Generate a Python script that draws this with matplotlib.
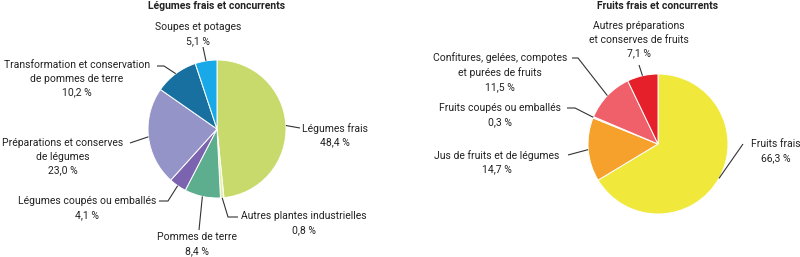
import numpy as np
import matplotlib.pyplot as plt

plt.rcParams["font.family"] = ["Roboto", "DejaVu Sans"]

W, H = 800, 257

# Left pie: vegetables
veg_labels = ["Légumes frais", "Autres plantes industrielles", "Pommes de terre",
              "Légumes coupés ou emballés", "Préparations et conserves\nde légumes",
              "Transformation et conservation\nde pommes de terre", "Soupes et potages"]
veg_values = [48.4, 0.8, 8.4, 4.1, 23.0, 10.2, 5.1]
veg_colors = ["#c8da6b", "#e6efa8", "#5cae8e", "#7b63b0", "#9494c8", "#17709f", "#1aa9e8"]

# Right pie: fruits
fruit_labels = ["Fruits frais", "Jus de fruits et de légumes", "Fruits coupés ou emballés",
                "Confitures, gelées, compotes\net purées de fruits",
                "Autres préparations\net conserves de fruits"]
fruit_values = [66.3, 14.7, 0.3, 11.5, 7.1]
fruit_colors = ["#f0e93c", "#f5a12b", "#f9d2c4", "#f0606b", "#e5202a"]


def fmt(v):
    return f"{v:.1f}".replace(".", ",") + " %"


def Y(py):
    return H - py


def draw_pie(ax, values, colors, labels, cx, cy, r, placements):
    ax.pie(values, colors=colors, startangle=90, counterclock=False,
           center=(cx, Y(cy)), radius=r,
           wedgeprops=dict(edgecolor="white", linewidth=0.7))
    total = sum(values)
    cum = 0.0
    for v, lab, (tx, ty, elbow, lead_end) in zip(values, labels, placements):
        mid = cum + v / 2
        cum += v
        ang = np.deg2rad(90 - mid / total * 360)
        ax_pt = (cx + r * np.cos(ang), cy - r * np.sin(ang))
        pts = [lead_end] + ([elbow] if elbow else []) + [ax_pt]
        ax.plot([p[0] for p in pts], [Y(p[1]) for p in pts], color="#333333",
                lw=0.8, solid_capstyle="butt")
        ax.text(tx, Y(ty), f"{lab}\n{fmt(v)}", ha="center", va="center",
                fontsize=7.5, color="#222222", linespacing=1.45)


fig = plt.figure(figsize=(W / 100, H / 100), dpi=100)
ax = fig.add_axes([0, 0, 1, 1])

# placements: text center, optional elbow, line start (pixel coords, y down)
veg_place = [
    (335, 135, None, (300, 128)),
    (304, 223, (228, 217), (238, 217)),
    (197, 244, None, (199, 230)),
    (87, 208, (168, 201), (159, 201)),
    (63, 157, None, (130, 143)),
    (77, 79, (164, 66), (157, 66)),
    (198, 34, None, (203, 47)),
]
draw_pie(ax, veg_values, veg_colors, veg_labels, 217, 129, 69, veg_place)

fruit_place = [
    (776, 151, None, (743, 144)),
    (497, 162, None, (568, 155)),
    (500, 115, (575, 108), (567, 108)),
    (500, 72, (578, 58), (572, 58)),
    (639, 40, None, (639, 65)),
]
draw_pie(ax, fruit_values, fruit_colors, fruit_labels, 658, 144, 70, fruit_place)

ax.text(217, Y(6), "Légumes frais et concurrents", ha="center", va="center",
        fontsize=7.5, fontweight="bold", color="#222222")
ax.text(658, Y(6), "Fruits frais et concurrents", ha="center", va="center",
        fontsize=7.5, fontweight="bold", color="#222222")

ax.set_xlim(0, W)
ax.set_ylim(0, H)
ax.set_aspect("equal")
ax.axis("off")

fig.savefig("out.png", dpi=100, facecolor="white")
